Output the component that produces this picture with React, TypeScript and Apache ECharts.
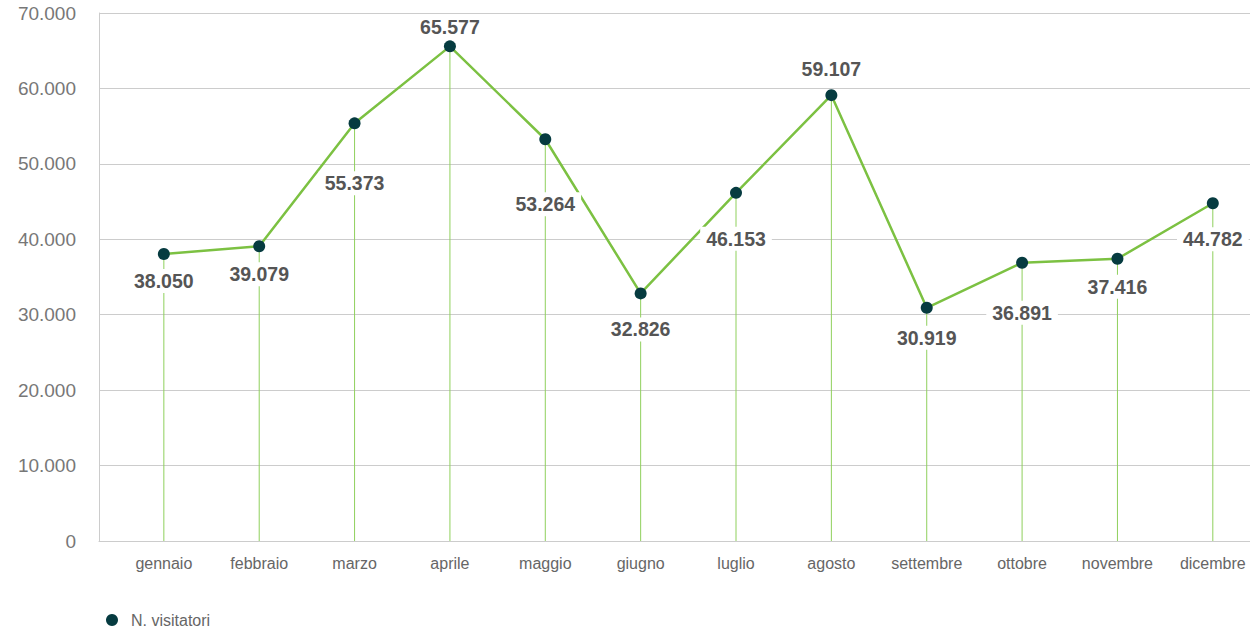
import React, { useEffect, useRef } from "react";
import * as echarts from "echarts";

const months = [
  "gennaio", "febbraio", "marzo", "aprile", "maggio", "giugno",
  "luglio", "agosto", "settembre", "ottobre", "novembre", "dicembre",
];
const visitors = [38050, 39079, 55373, 65577, 53264, 32826, 46153, 59107, 30919, 36891, 37416, 44782];
// vertical shift of each value label relative to its point (px)
const labelShift = [27, 28, 60, -19, 65, 36, 46, -26, 30, 50, 28, 36];

const fmt = (v: number) => String(Math.round(v)).replace(/\B(?=(\d{3})+(?!\d))/g, ".");

export default function App() {
  const ref = useRef<HTMLDivElement>(null);
  useEffect(() => {
    if (!ref.current) return;
    const chart = echarts.init(ref.current, undefined, { renderer: "svg" });
    const font = "'Liberation Sans', Arial, Helvetica, sans-serif";
    const pts = visitors.map((v, i) => [i, v]);
    chart.setOption({
      animation: false,
      textStyle: { fontFamily: font },
      grid: { left: 99, right: 0, top: 13, bottom: 93 },
      legend: {
        data: ["N. visitatori"],
        left: 101,
        top: 607,
        icon: "circle",
        itemWidth: 12,
        itemHeight: 12,
        textStyle: { fontSize: 16, color: "#666", fontFamily: font, padding: [0, 0, 0, 8] },
      },
      xAxis: {
        type: "value",
        min: -0.68,
        max: 11.39,
        splitLine: { show: false },
        axisTick: { show: false },
        axisLine: { show: true, onZero: false, lineStyle: { color: "#ccc", width: 1 } },
        axisLabel: {
          customValues: months.map((_, i) => i),
          formatter: (v: number) => months[Math.round(v)] ?? "",
          color: "#666",
          fontSize: 16,
          margin: 14,
          fontFamily: font,
        },
      },
      yAxis: {
        type: "value",
        min: 0,
        max: 70000,
        interval: 10000,
        axisLine: { show: true, onZero: false, lineStyle: { color: "#ccc", width: 1 } },
        axisTick: { show: false },
        splitLine: { lineStyle: { color: "#ccc", width: 1 } },
        axisLabel: {
          formatter: (v: number) => fmt(v),
          color: "#777",
          fontSize: 19,
          margin: 23,
          fontFamily: font,
        },
      },
      series: [
        {
          name: "drop",
          type: "bar",
          data: pts,
          barWidth: 1,
          itemStyle: { color: "#8fd05c" },
          silent: true,
          z: 1,
        },
        {
          name: "N. visitatori",
          type: "line",
          data: pts.map((p, i) => ({
            value: p,
            label: { offset: [0, labelShift[i]] },
          })),
          symbol: "circle",
          symbolSize: 12,
          lineStyle: { color: "#7cc142", width: 2.5 },
          itemStyle: { color: "#063b40" },
          z: 3,
          label: {
            show: true,
            position: "inside",
            formatter: (p: any) => fmt(p.value[1]),
            color: "#555",
            fontSize: 19.5,
            fontWeight: "bold",
            fontFamily: font,
            backgroundColor: "#fff",
            padding: [2, 6],
          },
        },
      ],
    });
    return () => chart.dispose();
  }, []);
  return (
    <div
      ref={ref}
      style={{ position: "absolute", left: 0, top: 0, width: 1250, height: 634 }}
    />
  );
}
